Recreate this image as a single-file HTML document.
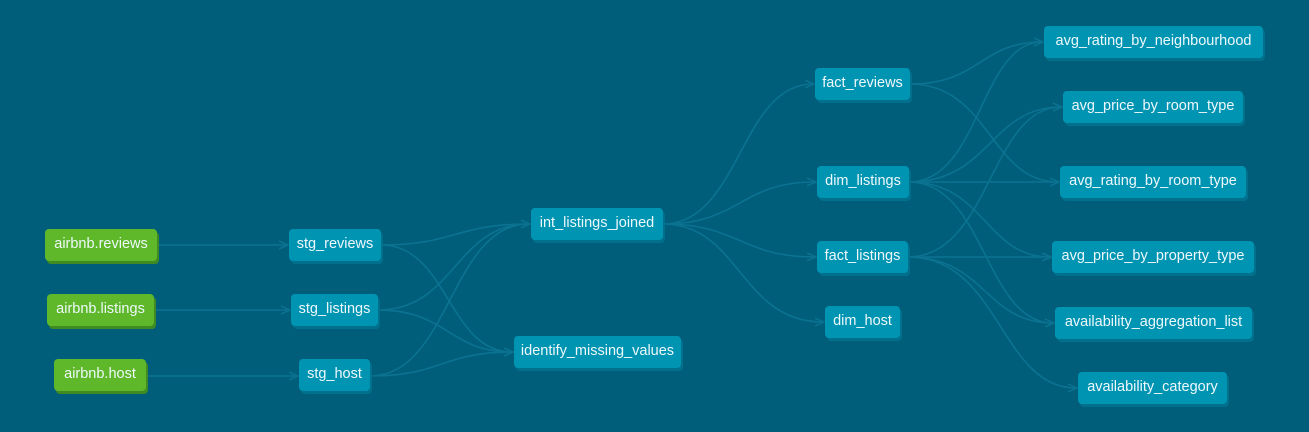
<!DOCTYPE html>
<html><head><meta charset="utf-8"><style>
html,body{margin:0;padding:0;background:#005e7a;width:1309px;height:432px;overflow:hidden}
.n{position:absolute;height:32px;line-height:30px;border-radius:4px;color:#eef8fb;font-family:"Liberation Sans",sans-serif;font-size:14.5px;text-align:center;background:#0094b3;box-shadow:2px 3px 0 #00708d;white-space:nowrap}
.g{background:#5fb82a;box-shadow:2px 3px 0 #3f8a22}
svg{position:absolute;left:0;top:0}
</style></head><body>
<svg width="1309" height="432">
<defs><marker id="a" markerWidth="10" markerHeight="10" refX="8" refY="5" orient="auto" markerUnits="userSpaceOnUse"><path d="M0,1 L9,5 L0,9" fill="none" stroke="#0b7391" stroke-width="1.5"/></marker></defs>
<g fill="none" stroke="#0b7391" stroke-width="1.6" marker-end="url(#a)">
<path d="M157,245 L287,245"/>
<path d="M154,310 L289,310"/>
<path d="M146,376 L297,376"/>
<path d="M381,245 C455,245 455,224 529,224"/>
<path d="M381,245 C448,245 448,352 512,352"/>
<path d="M378,310 C455,310 455,224 529,224"/>
<path d="M378,310 C448,310 448,352 512,352"/>
<path d="M370,376 C450,376 450,224 529,224"/>
<path d="M370,376 C442,376 442,352 512,352"/>
<path d="M663,224 C740,224 740,84 813,84"/>
<path d="M663,224 C740,224 740,182 815,182"/>
<path d="M663,224 C740,224 740,257 815,257"/>
<path d="M663,224 C740,224 740,322 823,322"/>
<path d="M910,84 C980,84 980,42 1042,42"/>
<path d="M910,84 C990,84 990,182 1058,182"/>
<path d="M909,182 C980,182 980,42 1042,42"/>
<path d="M909,182 C990,182 990,107 1061,107"/>
<path d="M909,182 L1058,182"/>
<path d="M909,182 C985,182 985,257 1050,257"/>
<path d="M909,182 C985,182 985,323 1053,323"/>
<path d="M908,257 C990,257 990,107 1061,107"/>
<path d="M908,257 L1050,257"/>
<path d="M908,257 C985,257 985,323 1053,323"/>
<path d="M908,257 C1000,257 1000,388 1076,388"/>
</g>
</svg>
<div class="n g" style="left:45px;top:229px;width:112px">airbnb.reviews</div>
<div class="n g" style="left:47px;top:294px;width:107px">airbnb.listings</div>
<div class="n g" style="left:54px;top:359px;width:92px">airbnb.host</div>
<div class="n" style="left:289px;top:229px;width:92px">stg_reviews</div>
<div class="n" style="left:291px;top:294px;width:87px">stg_listings</div>
<div class="n" style="left:299px;top:359px;width:71px">stg_host</div>
<div class="n" style="left:531px;top:208px;width:132px">int_listings_joined</div>
<div class="n" style="left:514px;top:336px;width:167px">identify_missing_values</div>
<div class="n" style="left:815px;top:68px;width:95px">fact_reviews</div>
<div class="n" style="left:817px;top:166px;width:92px">dim_listings</div>
<div class="n" style="left:817px;top:241px;width:91px">fact_listings</div>
<div class="n" style="left:825px;top:306px;width:75px">dim_host</div>
<div class="n" style="left:1044px;top:26px;width:219px">avg_rating_by_neighbourhood</div>
<div class="n" style="left:1063px;top:91px;width:180px">avg_price_by_room_type</div>
<div class="n" style="left:1060px;top:166px;width:186px">avg_rating_by_room_type</div>
<div class="n" style="left:1052px;top:241px;width:202px">avg_price_by_property_type</div>
<div class="n" style="left:1055px;top:307px;width:197px">availability_aggregation_list</div>
<div class="n" style="left:1078px;top:372px;width:149px">availability_category</div>
</body></html>
